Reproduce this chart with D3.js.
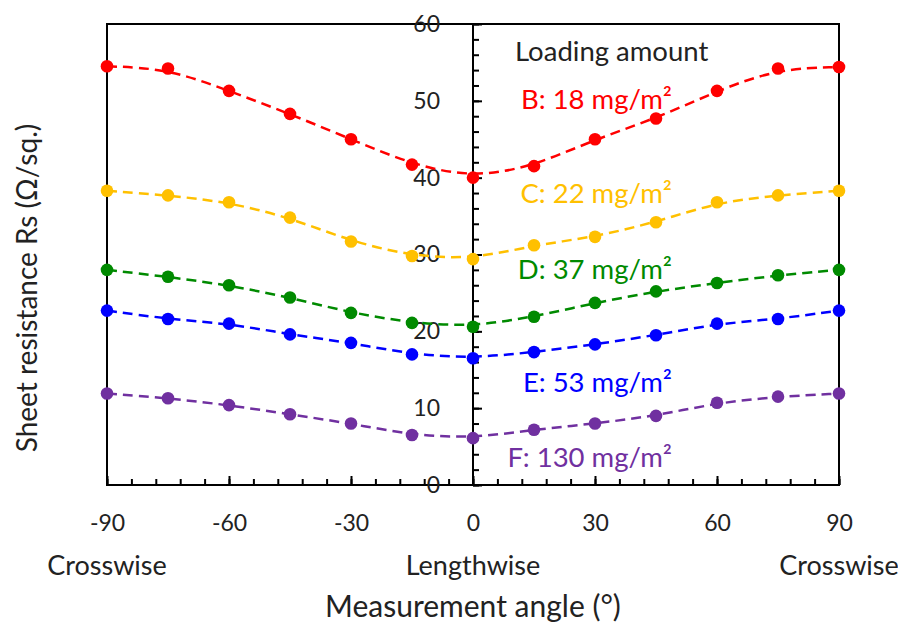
<!DOCTYPE html>
<html>
<head>
<meta charset="utf-8">
<script src="https://cdn.jsdelivr.net/npm/d3@7"></script>
<style>
  body { margin: 0; background: #fff; }
  text { font-family: Lato, "Open Sans", sans-serif; fill: #222; }
</style>
</head>
<body>
<div id="chart"></div>
<script>
// angles measured (deg) and sheet resistance for each loading amount
const angles = [-90, -75, -60, -45, -30, -15, 0, 15, 30, 45, 60, 75, 90];
const seriesNames = ['B: 18 mg/m²', 'C: 22 mg/m²', 'D: 37 mg/m²', 'E: 53 mg/m²', 'F: 130 mg/m²'];
const valuesB = [54.5, 54.2, 51.3, 48.3, 45.0, 41.7, 40.0, 41.5, 45.0, 47.7, 51.3, 54.2, 54.4];
const valuesC = [38.3, 37.7, 36.8, 34.8, 31.7, 29.8, 29.4, 31.2, 32.3, 34.2, 36.8, 37.7, 38.3];
const valuesD = [28.0, 27.1, 26.0, 24.4, 22.4, 21.1, 20.6, 21.9, 23.7, 25.2, 26.3, 27.3, 28.0];
const valuesE = [22.7, 21.6, 21.0, 19.6, 18.5, 17.0, 16.5, 17.3, 18.3, 19.5, 21.0, 21.6, 22.7];
const valuesF = [11.9, 11.3, 10.4, 9.2, 8.0, 6.5, 6.1, 7.2, 8.0, 9.0, 10.7, 11.5, 11.9];
const xTicks = [-90, -60, -30, 0, 30, 60, 90];
const yTicks = [0, 10, 20, 30, 40, 50, 60];
const directionLabels = ['Crosswise', 'Lengthwise', 'Crosswise'];

const colors = ['#ff0000', '#ffc000', '#008a00', '#0000ff', '#7030a0'];
const allValues = [valuesB, valuesC, valuesD, valuesE, valuesF];

const svgWidth = 898;
const svgHeight = 627;
const margin = { top: 24, right: 59, bottom: 142, left: 107 };
const width = svgWidth - margin.left - margin.right;
const height = svgHeight - margin.top - margin.bottom;

const svg = d3.select('#chart')
  .append('svg')
  .attr('width', svgWidth)
  .attr('height', svgHeight)
  .append('g')
  .attr('transform', `translate(${margin.left},${margin.top})`);

const xScale = d3.scaleLinear().domain([-90, 90]).range([0, width]);
const yScale = d3.scaleLinear().domain([0, 60]).range([height, 0]);

// frame
svg.append('rect')
  .attr('x', 0).attr('y', 0)
  .attr('width', width).attr('height', height)
  .attr('fill', 'none')
  .attr('stroke', '#000')
  .attr('stroke-width', 2);

// minor ticks x (every 6 deg), pointing up
svg.append('g')
  .attr('transform', `translate(0,${height})`)
  .call(d3.axisBottom(xScale).tickValues(d3.range(-90, 91, 6)).tickSize(-6).tickFormat(''))
  .call(g => g.select('.domain').remove())
  .selectAll('line').attr('stroke-width', 2);

// major ticks x with labels (plain hyphen for negatives)
svg.append('g')
  .attr('class', 'x-axis')
  .attr('transform', `translate(0,${height})`)
  .call(d3.axisBottom(xScale).tickValues(xTicks).tickSize(-9).tickPadding(30).tickFormat(d => String(d)))
  .call(g => g.select('.domain').remove())
  .call(g => g.selectAll('line').attr('stroke-width', 2))
  .selectAll('text')
  .style('font-size', '23px')
  .attr('fill', '#222');

// y axis at angle 0
const yAxisG = svg.append('g').attr('transform', `translate(${xScale(0)},0)`);
yAxisG.append('g')
  .call(d3.axisLeft(yScale).tickValues(d3.range(0, 61, 2)).tickSize(-6).tickFormat(''))
  .call(g => g.select('.domain').remove())
  .selectAll('line').attr('stroke-width', 2);
yAxisG.append('g')
  .attr('class', 'y-axis')
  .call(d3.axisLeft(yScale).tickValues(yTicks).tickSize(-9).tickPadding(33))
  .call(g => g.select('.domain').remove())
  .call(g => g.selectAll('line').attr('stroke-width', 2))
  .selectAll('text')
  .style('font-size', '23px')
  .attr('fill', '#222');
yAxisG.append('line')
  .attr('x1', 0).attr('x2', 0)
  .attr('y1', 0).attr('y2', height)
  .attr('stroke', '#000')
  .attr('stroke-width', 2);

// smoothed dashed curves + points
const line = d3.line()
  .x((d, i) => xScale(angles[i]))
  .y(d => yScale(d))
  .curve(d3.curveBasis);

allValues.forEach((vals, s) => {
  svg.append('path')
    .datum(vals)
    .attr('d', line)
    .attr('fill', 'none')
    .attr('stroke', colors[s])
    .attr('stroke-width', 2.5)
    .attr('stroke-dasharray', '10,6');

  svg.selectAll('.pt' + s)
    .data(vals)
    .enter().append('circle')
    .attr('class', 'pt' + s)
    .attr('cx', (d, i) => xScale(angles[i]))
    .attr('cy', d => yScale(d))
    .attr('r', 6.3)
    .attr('fill', colors[s]);
});

// legend text
svg.append('text')
  .attr('x', 408).attr('y', 37)
  .style('font-size', '27.5px')
  .attr('fill', '#222')
  .text('Loading amount');

const legendY = [85, 179, 255, 368, 443];
seriesNames.forEach((name, s) => {
  svg.append('text')
    .attr('x', 565).attr('y', legendY[s])
    .attr('text-anchor', 'end')
    .style('font-size', '27.5px')
    .style('fill', colors[s])
    .text(name);
});

// direction labels under the tick labels
const dirAt = [-90, 0, 90];
directionLabels.forEach((lab, i) => {
  svg.append('text')
    .attr('x', xScale(dirAt[i]))
    .attr('y', height + 90)
    .attr('text-anchor', 'middle')
    .style('font-size', '27px')
    .text(lab);
});

// axis titles
svg.append('text')
  .attr('x', width / 2)
  .attr('y', height + 132)
  .attr('text-anchor', 'middle')
  .style('font-size', '30px')
  .text('Measurement angle (°)');

svg.append('text')
  .attr('transform', 'rotate(-90)')
  .attr('x', -(288 - margin.top))
  .attr('y', -margin.left + 37)
  .attr('text-anchor', 'middle')
  .style('font-size', '28px')
  .text('Sheet resistance Rs (Ω/sq.)');
</script>
</body>
</html>
